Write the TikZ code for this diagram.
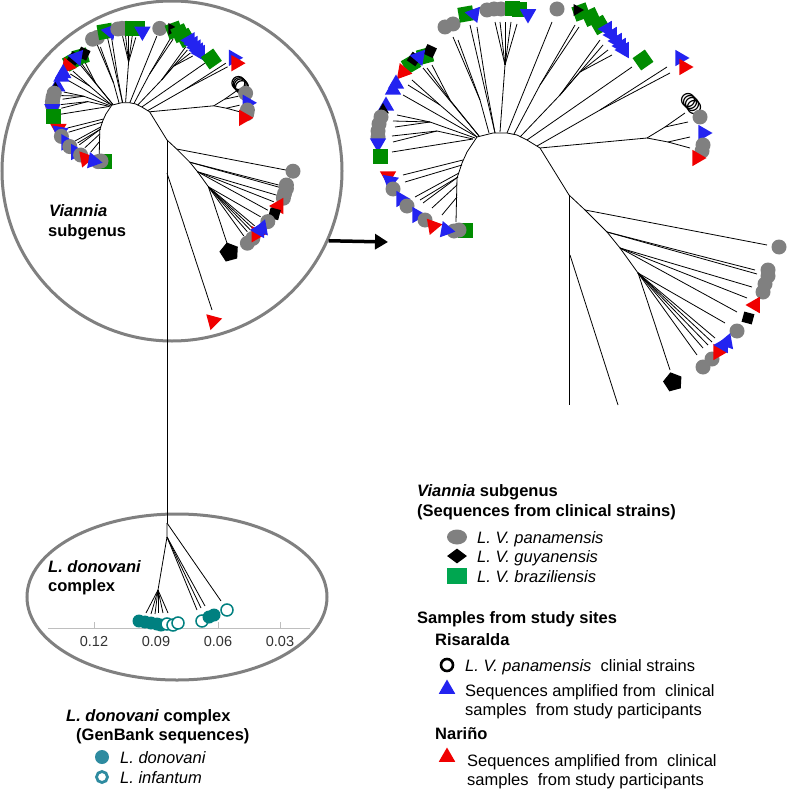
\documentclass[tikz,border=0pt]{standalone}
\usepackage{fontspec}
\setmainfont{Liberation Sans}
\usetikzlibrary{shapes.geometric,arrows.meta}
\definecolor{mgray}{RGB}{128,128,128}
\definecolor{mgreen}{RGB}{0,140,0}
\definecolor{lgreen}{RGB}{0,166,80}
\definecolor{mblue}{RGB}{35,35,240}
\definecolor{mred}{RGB}{240,0,0}
\definecolor{mteal}{RGB}{0,128,128}
\definecolor{lteal}{RGB}{46,139,160}
\definecolor{axgray}{RGB}{190,190,190}
\newcounter{mkc}
\newcommand\mk[3][0]{\stepcounter{mkc}\node[#2,rotate=#1] (m\arabic{mkc}) at (#3) {};}
\newcommand\treebody{%
\draw[tl] (456,222) -- (457,178) -- (462,163) -- (467,152) -- (477,137) -- (493,133) -- (507,133) -- (517,135) -- (527,140) -- (540,148) -- (569,195) -- (585,210) -- (607,232) -- (620,248) -- (638,273) -- (641,282) -- (670,370);
% lower-left
\draw[tl] (463,160) -- (403,175);
\draw[tl] (462,165) -- (405,182);
\draw[tl] (459,173) -- (415,197);
\draw[tl] (458,177) -- (420,200);
\draw[tl] (458,177) -- (423,203);
\draw[tl] (457,185) -- (432,208);
\draw[tl] (457,197) -- (442,215);
% left arc
\draw[tl] (473,139) -- (392,152);
\draw[tl] (473,139) -- (437,131) -- (393,142);
\draw[tl] (437,131) -- (392,136);
\draw[tl] (475,138) -- (430,122) -- (395,127);
\draw[tl] (430,122) -- (393,121);
\draw[tl] (430,122) -- (397,115);
\draw[tl] (477,137) -- (403,95);
\draw[tl] (477,137) -- (440,105) -- (412,80);
\draw[tl] (440,105) -- (408,85);
\draw[tl] (479,136) -- (423,68);
\draw[tl] (479,136) -- (450,100) -- (432,65);
\draw[tl] (450,100) -- (427,68);
% top
\draw[tl] (489,133) -- (480,100) -- (453,37);
\draw[tl] (480,100) -- (458,40);
\draw[tl] (495,133) -- (470,25);
\draw[tl] (495,133) -- (486,85) -- (477,27);
\draw[tl] (500,132) -- (505,65) -- (495,22);
\draw[tl] (505,65) -- (500,22);
\draw[tl] (505,65) -- (505,22);
\draw[tl] (505,65) -- (511,22);
\draw[tl] (505,65) -- (517,24);
\draw[tl] (507,133) -- (552,22);
\draw[tl] (514,134) -- (540,85) -- (575,25);
\draw[tl] (540,85) -- (579,27);
\draw[tl] (520,137) -- (560,95) -- (600,40);
\draw[tl] (560,95) -- (603,45);
\draw[tl] (560,95) -- (580,72) -- (608,50);
\draw[tl] (580,72) -- (612,55);
\draw[tl] (527,140) -- (632,67);
\draw[tl] (537,146) -- (600,110) -- (667,67);
\draw[tl] (600,110) -- (670,73);
\draw[tl] (540,148) -- (647,138) -- (665,127) -- (685,113);
\draw[tl] (665,127) -- (688,122);
\draw[tl] (647,138) -- (668,142) -- (690,137);
\draw[tl] (668,142) -- (690,148);
% lower right
\draw[tl] (585,210) -- (767,245);
\draw[tl] (607,232) -- (755,270);
\draw[tl] (607,232) -- (757,274);
\draw[tl] (620,248) -- (752,287);
\draw[tl] (620,248) -- (747,298);
\draw[tl] (620,248) -- (737,312);
\draw[tl] (638,273) -- (725,323);
\draw[tl] (638,273) -- (715,338);
\draw[tl] (638,273) -- (712,342);
\draw[tl] (638,273) -- (708,345);
\draw[tl] (638,273) -- (703,348);
\draw[tl] (638,273) -- (697,355);
% markers top
\mk{gc}{445,27}\mk{gc}{453,24}
\mk[10]{gs}{466,14}\mk[200]{bt}{474,14}
\mk{gc}{487,10}\mk{gc}{494,9}\mk{gc}{501,9}
\mk{gs}{512,9}\mk{gs}{519,10}
\mk[180]{bt}{528,14}
\mk{gc}{557,9}
\mk[20]{gs}{581,12}\mk[30]{kt}{577,10}
\mk[25]{gs}{591,17}\mk[30]{gs}{600,25}
\mk[-30]{bt}{607,29}\mk[-30]{bt}{612,35}\mk[-30]{bt}{617,41}\mk[-30]{bt}{621,46}\mk[-30]{bt}{624,50}
\mk[35]{gs}{643,60}
\mk[-90]{bt}{680,58}\mk[-90]{rt}{684,67}
\mk{oc}{688,100}\mk{oc}{690,102}\mk{oc}{692,104}\mk{oc}{694,107}
\mk{gc}{700,117}
\mk[-90]{bt}{703,133}
\mk{gc}{703,145}\mk{gc}{702,151}
\mk[150]{rt}{697,158}
% markers left arc
\mk[15]{gs}{425,56}\mk[20]{kd}{430,51}
\mk[30]{gs}{411,64}\mk[10]{kd}{414,59}
\mk[200]{bt}{419,57}
\mk[140]{rt}{403,72}
\mk[120]{bt}{396,84}\mk[120]{bt}{393,90}
\mk[120]{bt}{386,106}\mk[120]{kt}{383,110}
\mk{gc}{381,117}\mk{gc}{379,124}\mk{gc}{378,131}\mk{gc}{378,137}
\mk[180]{bt}{378,143}
\mk{gs}{380,156}
% markers lower-left arc
\mk[180]{rt}{388,176}\mk[170]{bt}{390,181}
\mk{gc}{393,189}\mk[150]{bt}{401,199}
\mk{gc}{407,206}\mk[150]{bt}{417,215}
\mk{gc}{425,220}\mk[160]{rt}{433,226}
\mk{gs}{465,230}\mk{gc}{459,230}\mk{gc}{454,231}
\mk[140]{bt}{446,230}
% markers lower right
\mk{gc}{779,247}
\mk{gc}{768,270}\mk{gc}{768,276}\mk{gc}{765,284}\mk{gc}{763,292}
\mk[90]{rt}{755,305}
\mk[30]{kd}{748,318}
\mk{gc}{737,331}
\mk{gc}{712,359}\mk{gc}{703,367}
\mk[150]{rt}{718,352}
\mk[-30]{bt}{723,345}\mk[-20]{bt}{727,342}
\mk[15]{kp}{673,382}
}
\begin{document}
\begin{tikzpicture}[x=1pt,y=-1pt,
  tl/.style={line width=0.8pt,black},
  gc/.style={circle,fill=mgray,minimum size=15pt,inner sep=0pt},
  gs/.style={rectangle,fill=mgreen,minimum size=15pt,inner sep=0pt},
  bt/.style={regular polygon,regular polygon sides=3,fill=mblue,minimum size=19pt,inner sep=0pt},
  rt/.style={bt,fill=mred},
  kt/.style={bt,fill=black,minimum size=14pt},
  kd/.style={diamond,fill=black,minimum size=15pt,inner sep=0pt},
  kp/.style={regular polygon,regular polygon sides=5,fill=black,minimum size=20pt,inner sep=0pt},
  oc/.style={circle,draw=black,line width=1.2pt,minimum size=13pt,inner sep=0pt},
  tf/.style={circle,fill=mteal,minimum size=13pt,inner sep=0pt},
  to/.style={circle,draw=mteal,fill=white,line width=1.5pt,minimum size=12pt,inner sep=0pt},
  lt/.style={anchor=base west,inner sep=0pt,font=\fontsize{16.5}{19}\selectfont},
  lb/.style={anchor=base west,inner sep=0pt,font=\fontsize{16.5}{19}\selectfont\bfseries},
  tk/.style={anchor=base,inner sep=0pt,text=black!80,font=\fontsize{14.5}{17}\selectfont}]
\useasboundingbox (0,0) rectangle (787,789);
\fill[white] (0,0) rectangle (787,789);
% enclosures
\node[circle,draw=mgray,line width=3pt,minimum size=340pt,inner sep=0pt] (vc) at (172,171) {};
\node[ellipse,draw=mgray,line width=3pt,minimum width=300pt,minimum height=166pt,inner sep=0pt] (de) at (177,597) {};
% axis
\coordinate (ax0) at (48,628);
\coordinate (ax1) at (310,628);
\draw[axgray,line width=0.8pt] (ax0) -- (ax1);
\foreach \xx in {94,156,218,280} \draw[axgray,line width=0.8pt] (\xx,622) -- (\xx,628);
\node[tk] (t12) at (94,646) {0.12};
\node[tk] (t09) at (156,646) {0.09};
\node[tk] (t06) at (218,646) {0.06};
\node[tk] (t03) at (280,646) {0.03};
% left tree (scaled copy)
\draw[tl] (167,140) -- (167,523);
\draw[tl] (167,173) -- (212,310);
\begin{scope}[shift={(167,140)},scale=0.6,shift={(-569,-195)}]
\treebody
\end{scope}
\node[rt,rotate=165] (lred) at (213,321) {};
% donovani subtree
\draw[tl] (167,523) -- (221,601);
\draw[tl] (167,523) -- (167,537) -- (158,590) -- (146,613);
\foreach \xx/\yy in {151/614,155/614,158/613,163/613,168/613} \draw[tl] (158,590) -- (\xx,\yy);
\foreach \xx/\yy in {197/610,201/608,205/606} \draw[tl] (167,537) -- (\xx,\yy);
\node[tf] (d1) at (139,621) {};
\node[tf] (d2) at (145,622) {};
\node[tf] (d3) at (151,623) {};
\node[tf] (d4) at (157,624) {};
\node[tf] (d5) at (161,625) {};
\node[to] (d6) at (167,624) {};
\node[to] (d7) at (173,625) {};
\node[to] (d8) at (178,623) {};
\node[to] (d9) at (202,621) {};
\node[tf] (d10) at (209,617) {};
\node[tf] (d11) at (214,615) {};
\node[to] (d12) at (227,610) {};
% right tree
\draw[tl] (569,195) -- (569,405);
\draw[tl] (570,255) -- (618,405);
\treebody
% arrow
\coordinate (arE) at (388,242);
\draw[line width=3.5pt,-{Triangle[length=13pt,width=15pt]}] (vc.-24.5) -- (arE);
% labels in enclosures
\node[lb] (lv1) at (49,216) {\textit{Viannia}};
\node[lb] (lv2) at (48,236) {subgenus};
\node[lb] (ld1) at (48,572) {\textit{L. donovani}};
\node[lb] (ld2) at (48,591) {complex};
% left legend
\node[lb] (lg0a) at (66,721) {\textit{L. donovani} complex};
\node[lb] (lg0b) at (76,740) {(GenBank sequences)};
\node[circle,fill=lteal,minimum size=14pt,inner sep=0pt] (lgd) at (102,757) {};
\node[circle,draw=lteal,line width=2.8pt,minimum size=11pt,inner sep=0pt] (lgi) at (102,777) {};
\node[lt] (lgdt) at (120,763) {\textit{L. donovani}};
\node[lt] (lgit) at (120,783) {\textit{L. infantum}};
% right legend
\node[lb] (rg0a) at (417,496) {\textit{Viannia} subgenus};
\node[lb] (rg0b) at (417,516) {(Sequences from clinical strains)};
\node[ellipse,fill=mgray,minimum width=20pt,minimum height=15pt,inner sep=0pt] (rgp) at (457,537) {};
\node[diamond,fill=black,minimum width=20pt,minimum height=15pt,inner sep=0pt] (rgg) at (457,556) {};
\node[rectangle,fill=lgreen,minimum width=20pt,minimum height=16pt,inner sep=0pt] (rgb) at (457,576) {};
\node[lt] (rgpt) at (477,543) {\textit{L. V. panamensis}};
\node[lt] (rggt) at (477,562) {\textit{L. V. guyanensis}};
\node[lt] (rgbt) at (477,582) {\textit{L. V. braziliensis}};
\node[lb] (rs0) at (417,623) {Samples from study sites};
\node[lb] (rs1) at (435,645) {Risaralda};
\node[circle,draw=black,line width=2.6pt,minimum size=12pt,inner sep=0pt] (rso) at (447,665) {};
\node[lt] (rsot) at (465,671) {\textit{L. V. panamensis}\ \ clinial strains};
\node[regular polygon,regular polygon sides=3,fill=mblue,minimum size=19pt,inner sep=0pt] (rsb) at (447,689) {};
\node[lt] (rsbt1) at (465,696) {Sequences amplified from\ \ clinical};
\node[lt] (rsbt2) at (465,715) {samples\ \ from study participants};
\node[lb] (rs2) at (435,739) {Nariño};
\node[regular polygon,regular polygon sides=3,fill=mred,minimum size=19pt,inner sep=0pt] (rsr) at (447,757) {};
\node[lt] (rsrt1) at (467,766) {Sequences amplified from\ \ clinical};
\node[lt] (rsrt2) at (467,785) {samples\ \ from study participants};
\end{tikzpicture}
\end{document}
